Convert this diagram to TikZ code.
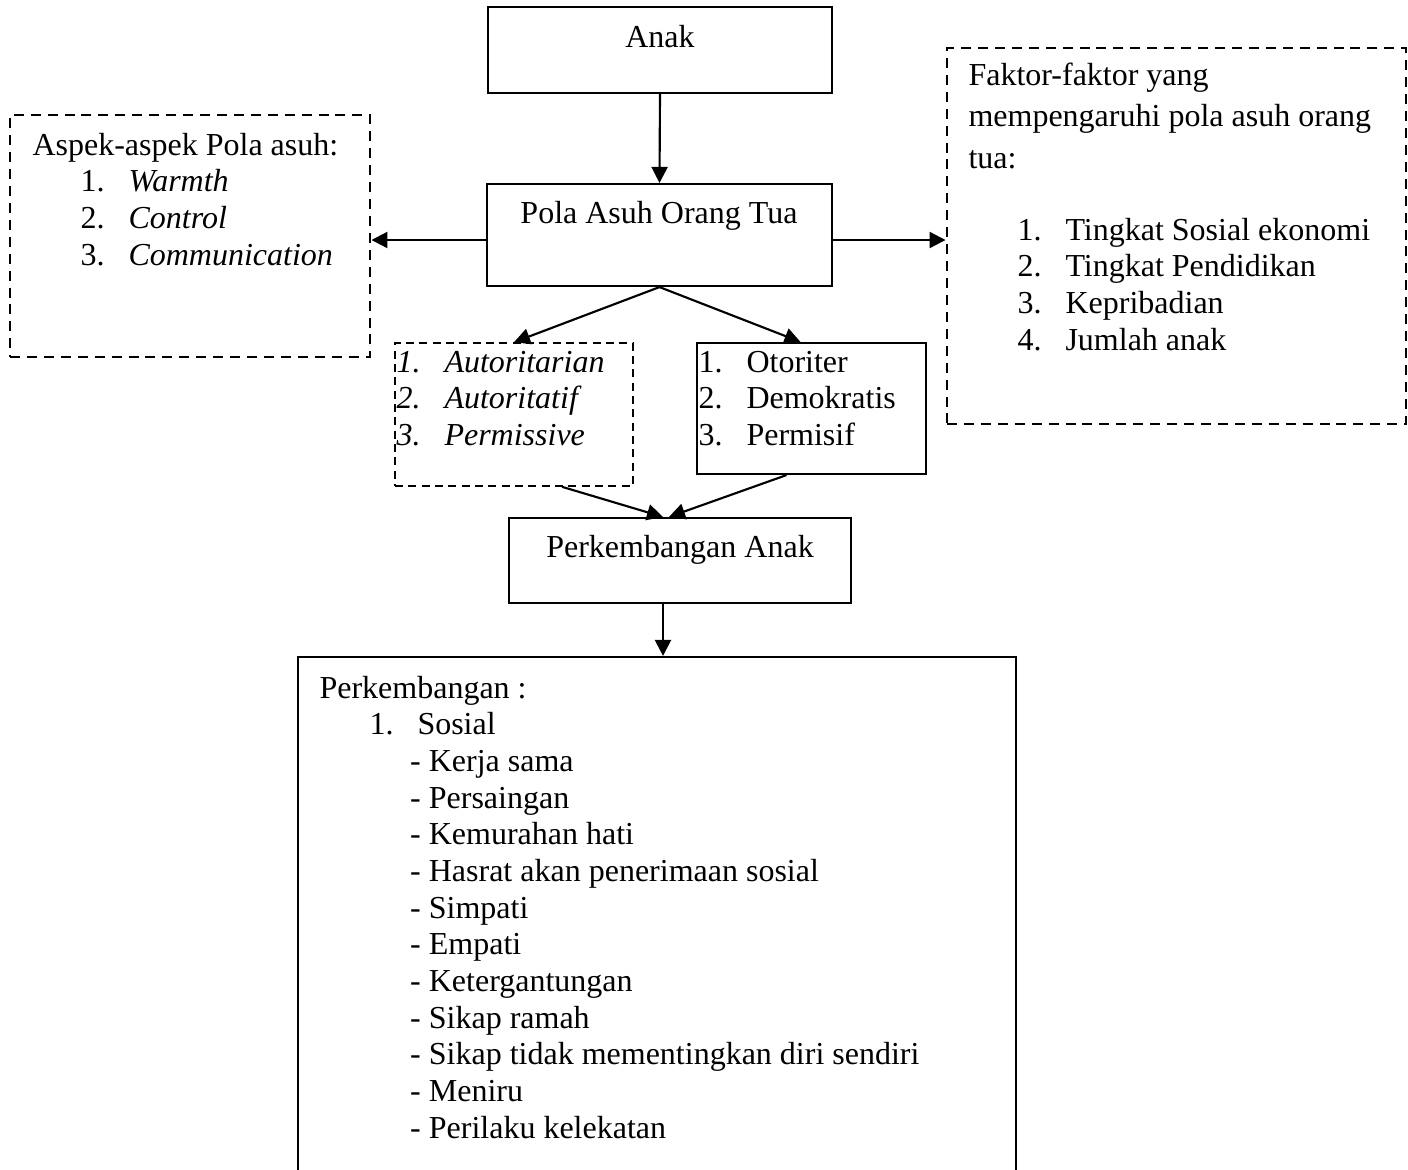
\documentclass[tikz,border=0pt]{standalone}
\usepackage{fontspec}
\setmainfont{Liberation Serif}
\usetikzlibrary{arrows.meta}

\newdimen\pxu \pxu=0.375pt
\newcommand{\numitem}[2]{\makebox[18pt][l]{#1}#2}

\tikzset{
  box/.style={draw, line width=0.8pt, inner sep=0pt},
  dashbox/.style={draw, line width=1.1pt, dash pattern=on 3.75pt off 2.6pt, inner sep=0pt},
  thindash/.style={draw, line width=0.6pt, dash pattern=on 3pt off 2pt, inner sep=0pt},
  txt/.style={inner sep=0pt, font=\fontsize{12}{13.76}\selectfont},
  arr/.style={line width=0.8pt, -{Triangle[length=6pt,width=6pt]}}
}

\begin{document}
\begin{tikzpicture}[x=0.375pt, y=-0.375pt]
\useasboundingbox (0,0) rectangle (1408,1169);
\clip (0,0) rectangle (1408,1169);

% boxes
\node[box, minimum width=344\pxu, minimum height=86\pxu] (anak) at (660,50) {};
\node[box, minimum width=345\pxu, minimum height=102\pxu] (pola) at (659.5,235) {};
\node[dashbox, minimum width=360\pxu, minimum height=242\pxu] (aspekbox) at (190,236) {};
\node[dashbox, minimum width=459\pxu, minimum height=376\pxu] (faktorbox) at (1176.5,236) {};
\node[thindash, minimum width=238\pxu, minimum height=143\pxu] (autor) at (514,414.5) {};
\node[box, minimum width=229\pxu, minimum height=131\pxu] (otor) at (811.5,408.5) {};
\node[box, minimum width=342\pxu, minimum height=85\pxu] (kemb) at (680,560.5) {};
\node[box, minimum width=718\pxu, minimum height=560\pxu] (hasil) at (657,937) {};

% texts
\node[txt, anchor=base] (anaktxt) at (660,47) {Anak};
\node[txt, anchor=base] (polatxt) at (659,223) {Pola Asuh Orang Tua};
\node[txt, anchor=base] (kembtxt) at (680,557) {Perkembangan Anak};

\node[txt, anchor=base west] (aspek) at (32,155) {\begin{tabular}[t]{@{}l@{}}
Aspek-aspek Pola asuh:\\
\hspace*{18pt}\numitem{1.}{\textit{Warmth}}\\
\hspace*{18pt}\numitem{2.}{\textit{Control}}\\
\hspace*{18pt}\numitem{3.}{\textit{Communication}}
\end{tabular}};

\node[txt, anchor=base west, font=\fontsize{12}{15.6}\selectfont] (faktor) at (968,85) {\begin{tabular}[t]{@{}l@{}}
Faktor-faktor yang\\
mempengaruhi pola asuh orang\\
tua:
\end{tabular}};
\node[txt, anchor=base west] (faktorlist) at (1017,240) {\begin{tabular}[t]{@{}l@{}}
\numitem{1.}{Tingkat Sosial ekonomi}\\
\numitem{2.}{Tingkat Pendidikan}\\
\numitem{3.}{Kepribadian}\\
\numitem{4.}{Jumlah anak}
\end{tabular}};

\node[txt, anchor=base west] (autortxt) at (396,372) {\begin{tabular}[t]{@{}l@{}}
\textit{\numitem{1.}{Autoritarian}}\\
\textit{\numitem{2.}{Autoritatif}}\\
\textit{\numitem{3.}{Permissive}}
\end{tabular}};
\node[txt, anchor=base west] (otortxt) at (698,372) {\begin{tabular}[t]{@{}l@{}}
\numitem{1.}{Otoriter}\\
\numitem{2.}{Demokratis}\\
\numitem{3.}{Permisif}
\end{tabular}};

\node[txt, anchor=base west] (hasiltxt) at (319,698) {\begin{tabular}[t]{@{}l@{}}
Perkembangan :\\
\hspace*{18.75pt}\numitem{1.}{Sosial}\\
\hspace*{34pt}- Kerja sama\\
\hspace*{34pt}- Persaingan\\
\hspace*{34pt}- Kemurahan hati\\
\hspace*{34pt}- Hasrat akan penerimaan sosial\\
\hspace*{34pt}- Simpati\\
\hspace*{34pt}- Empati\\
\hspace*{34pt}- Ketergantungan\\
\hspace*{34pt}- Sikap ramah\\
\hspace*{34pt}- Sikap tidak mementingkan diri sendiri\\
\hspace*{34pt}- Meniru\\
\hspace*{34pt}- Perilaku kelekatan
\end{tabular}};

% connectors
\draw[arr] (anak.south) -- (pola.north);
\draw[arr] ([yshift=-5\pxu]pola.west) -- ([yshift=-5\pxu]pola.west -| aspekbox.east);
\draw[arr] ([yshift=-5\pxu]pola.east) -- ([yshift=-5\pxu]pola.east -| faktorbox.west);
\draw[arr] (pola.south) -- (autor.north);
\draw[arr] (pola.south) -- ([xshift=-11\pxu]otor.north);
\draw[arr] ([xshift=48\pxu]autor.south) -- ([xshift=-17\pxu]kemb.north);
\draw[arr] ([xshift=-25\pxu]otor.south) -- ([xshift=-11\pxu]kemb.north);
\draw[arr] ([xshift=-17\pxu]kemb.south) -- ([xshift=6\pxu]hasil.north);
\end{tikzpicture}
\end{document}
